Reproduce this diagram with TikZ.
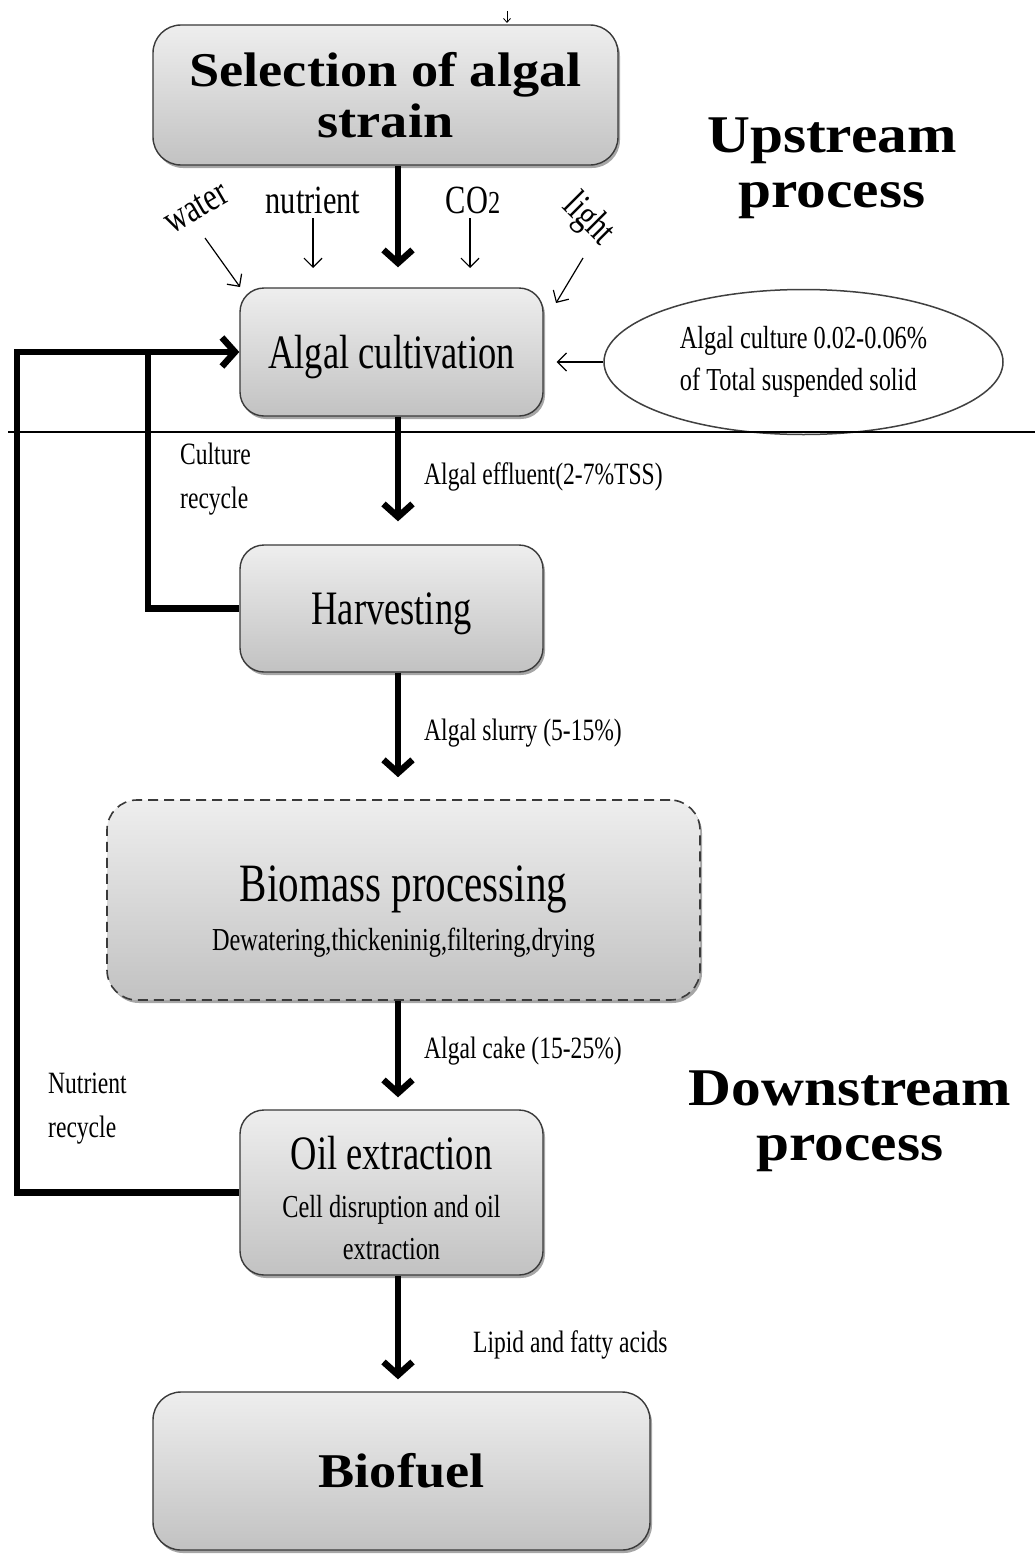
\documentclass[tikz,border=0pt]{standalone}
\usepackage{fontspec}
\setmainfont{Liberation Serif}
\newfontfamily\condf[FakeStretch=0.76]{Liberation Serif}
\newfontfamily\widef[FakeStretch=1.12]{Liberation Serif}
\usetikzlibrary{arrows.meta,shapes.geometric,shadows,calc}
\definecolor{boxtop}{HTML}{EEEEEE}
\definecolor{boxbot}{HTML}{C2C2C2}
\definecolor{boxline}{HTML}{3A3A3A}
\begin{document}
\begin{tikzpicture}[x=1pt,y=-1pt,
  procbox/.style={draw=boxline, line width=1.4pt, rounded corners=24pt,
    top color=boxtop, bottom color=boxbot,
    drop shadow={shadow xshift=2pt, shadow yshift=-3pt, opacity=0.35, fill=black},
    align=center, inner sep=0pt},
  mainfont/.style={font=\condf\fontsize{48}{52}\selectfont, text depth=0pt},
  titlefont/.style={font=\widef\bfseries\fontsize{48.5}{50}\selectfont},
  lbl/.style={font=\condf\fontsize{31}{44}\selectfont, inner sep=0pt},
  inlbl/.style={font=\condf\fontsize{40}{44}\selectfont, inner sep=0pt},
  bigline/.style={line width=6.5pt},
  bigarr/.style={line width=6.5pt, -{Straight Barb[length=13pt,width=29pt]}},
  thinarr/.style={line width=1.2pt, -{Straight Barb[length=9pt,width=18pt]}},
]
\fill[white] (0,0) rectangle (1035,1555);
\useasboundingbox (0,0) rectangle (1035,1555);

% boxes
\node[procbox, titlefont, rounded corners=28pt, minimum width=465, minimum height=140] (sel) at (385.5,95) {Selection of algal\\[1pt]strain};
\node[procbox, mainfont, minimum width=303, minimum height=128] (cult) at (391.5,352) {Algal cultivation};
\node[procbox, mainfont, minimum width=303, minimum height=127] (harv) at (391.5,608.5) {Harvesting};
\node[procbox, dash pattern=on 10pt off 6pt, line width=1.6pt, rounded corners=30pt, minimum width=593, minimum height=200,
  font=\condf\fontsize{32}{49}\selectfont] (bio) at (403.5,900)
  {\rule{0pt}{59pt}{\fontsize{54}{56}\selectfont Biomass processing}\\{Dewatering,thickeninig,filtering,drying}};
\node[procbox, minimum width=303, minimum height=165, font=\condf\fontsize{32}{42}\selectfont] (oil) at (391.5,1192.5)
  {\rule{0pt}{45pt}{\fontsize{48}{50}\selectfont Oil extraction}\\[6pt]Cell disruption and oil\\extraction};
\node[procbox, titlefont, rounded corners=28pt, minimum width=497, minimum height=158] (fuel) at (401.5,1471) {Biofuel};
\node[ellipse, draw=black!75, line width=1.5pt, minimum width=399, minimum height=145, inner sep=0pt, align=left, font=\condf\fontsize{32}{42}\selectfont] (ell) at (803.5,362) {Algal culture 0.02-0.06\%\\of Total suspended solid};

% titles
\node[font=\widef\bfseries\fontsize{53}{55}\selectfont, align=center, inner sep=0pt] (up) at (832,168) {Upstream\\process};
\node[font=\widef\bfseries\fontsize{53}{55}\selectfont, align=center, inner sep=0pt] (down) at (850,1121) {Downstream\\process};

% divider
\coordinate (d1) at (8,432);
\coordinate (d2) at (1035,432);
\draw[line width=1.6pt] (d1) -- (d2);

% tiny mark at top
\coordinate (t1) at (507,11);
\coordinate (t2) at (507,23);
\draw[line width=0.8pt, -{Straight Barb[length=4pt,width=7pt]}] (t1) -- (t2);

% inputs
\node[inlbl, rotate=30] (water) at (196,208) {water};
\node[inlbl] (nutr) at (313,200) {nutrient};
\node[inlbl] (co2) at (473,200) {CO{\fontsize{32}{32}\selectfont 2}};
\node[inlbl, rotate=-45] (light) at (588,220) {light};
\coordinate (wS) at (205,238);  \coordinate (wE) at (240,287);
\coordinate (nS) at (313,218);  \coordinate (nE) at (313,268);
\coordinate (cS) at (470,218);  \coordinate (cE) at (470,268);
\coordinate (lS) at (583,258);  \coordinate (lE) at (556,303);
\draw[thinarr] (wS) -- (wE);
\draw[thinarr] (nS) -- (nE);
\draw[thinarr] (cS) -- (cE);
\draw[thinarr] (lS) -- (lE);
\draw[thinarr, shorten >=13pt] (ell.west) -- (ell.west -| cult.east);

% main flow
\coordinate (mx) at (398,0);
\draw[bigarr, shorten >=20pt] (mx |- sel.south) -- (mx |- cult.north);
\draw[bigarr, shorten >=23pt] (mx |- cult.south) -- (mx |- harv.north);
\draw[bigarr, shorten >=22pt] (mx |- harv.south) -- (mx |- bio.north);
\draw[bigarr, shorten >=12pt] (mx |- bio.south) -- (mx |- oil.north);
\draw[bigarr, shorten >=12pt] (mx |- oil.south) -- (mx |- fuel.north);

\node[lbl, anchor=west] (e1) at (424,477) {Algal effluent(2-7\%TSS)};
\node[lbl, anchor=west] (e2) at (424,733) {Algal slurry (5-15\%)};
\node[lbl, anchor=west] (e3) at (424,1051) {Algal cake (15-25\%)};
\node[lbl, anchor=west] (e4) at (473,1345) {Lipid and fatty acids};

% recycles
\coordinate (lx) at (17,352);
\coordinate (cx) at (148,352);
\draw[bigarr] (oil.west) -| (lx) -- (cult.west);
\draw[bigline] (harv.west) -| (cx);
\node[lbl, anchor=west, align=left] (cr) at (180,479) {Culture\\recycle};
\node[lbl, anchor=west, align=left] (nr) at (48,1109) {Nutrient\\recycle};
\end{tikzpicture}
\end{document}
